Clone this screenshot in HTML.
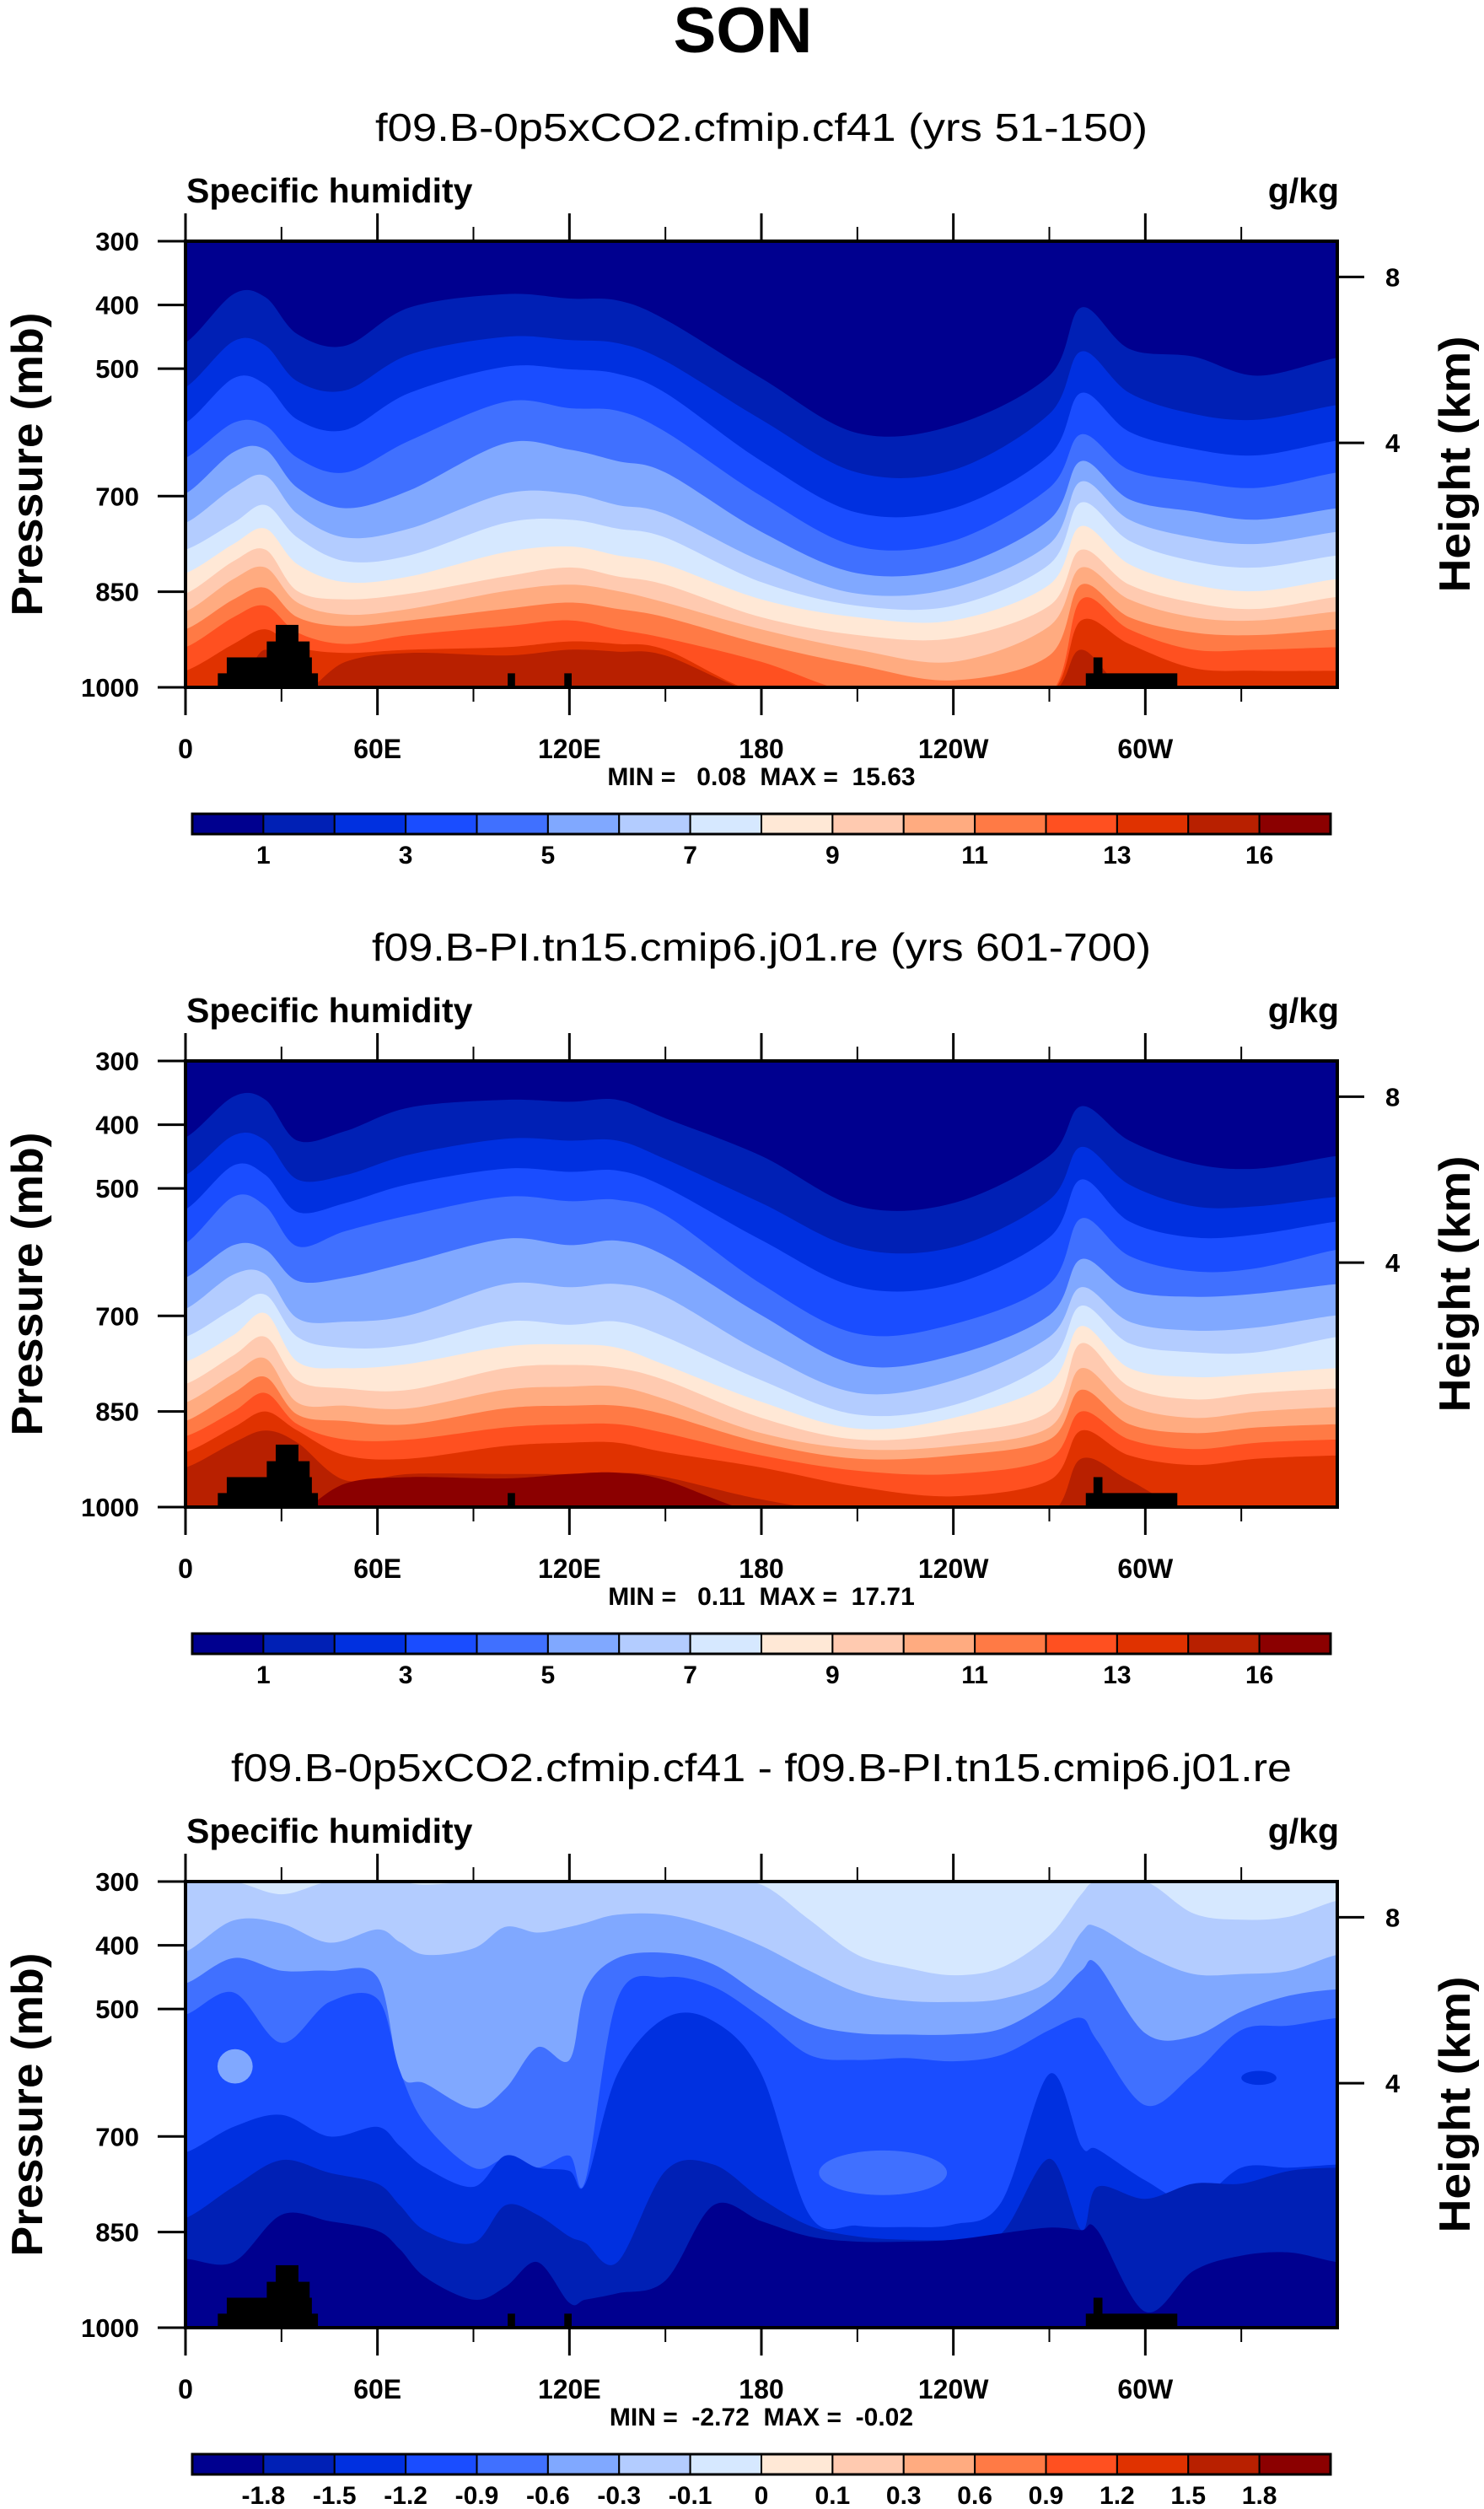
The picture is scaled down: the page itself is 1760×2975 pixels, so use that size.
<!DOCTYPE html>
<html><head><meta charset="utf-8">
<style>
html,body{margin:0;padding:0;background:#fff;}
svg{display:block;font-family:"Liberation Sans",Arial,sans-serif;}
.pre{white-space:pre;}
</style></head>
<body>
<svg id="fig" width="1760" height="2975" viewBox="0 0 1760 2975" xmlns="http://www.w3.org/2000/svg">
<rect x="0" y="0" width="1760" height="2975" fill="#fff"/>
<text x="881" y="62" font-size="76" font-weight="bold" text-anchor="middle">SON</text>
</svg>
<script>
// ---------- data ----------
const lonsAB = [0,15,25,35,50,70,100,120,135,150,180,210,240,270,280,295,315,335,360];
// Panel 1 (0p5xCO2) boundary pressures (mb) for contour levels 1..15
const a01 = [459,383,388,446,464,404,383,390,393,423,515,601,589,511,404,469,481,511,483];
const a02 = [529,457,464,520,534,478,450,455,460,488,580,663,659,571,473,538,571,580,557];
const a03 = [585,515,525,580,596,538,497,501,508,538,645,726,719,636,538,599,626,636,613];
const a04 = [640,585,589,640,663,613,552,562,566,599,700,779,770,687,603,659,677,687,663];
const a05 = [696,631,627,687,719,691,617,627,645,663,756,821,812,737,645,705,724,737,719];
const a06 = [742,687,668,728,765,751,696,696,714,728,802,853,844,775,677,737,765,775,756];
const a07 = [784,742,714,765,802,793,742,737,751,765,835,872,872,807,710,770,802,812,793];
const a08 = [821,775,751,807,835,826,788,779,793,807,862,890,895,839,747,807,839,849,830];
const a09 = [853,802,784,849,862,853,826,812,826,839,890,918,923,872,784,839,867,877,858];
const a10 = [881,830,812,867,886,877,849,839,849,867,909,941,960,904,812,862,890,895,881];
const a11 = [909,862,844,890,904,895,877,867,877,890,932,965,989,950,839,890,914,918,909];
const a12 = [937,890,872,914,932,918,904,895,909,923,960,1010,1010,1010,862,909,941,941,937];
const a13 = [974,932,909,937,946,941,937,928,932,941,1010,1010,1010,1010,895,932,970,974,974];
const a14 = [1010,1010,941,1010,960,946,950,941,944,950,1010,1010,1010,1010,941,1010,1010,1010,1010];
const a15 = [1010,1010,1010,1010,1010,1010,1010,1010,1010,1010,1010,1010,1010,1010,1010,1010,1010,1010,1010];
// Panel 2 (PI control)
const b01 = [420,356,361,425,410,373,361,364,361,390,449,528,523,449,371,425,461,469,449];
const b02 = [479,417,425,486,479,447,422,425,425,454,523,594,592,518,435,494,528,528,513];
const b03 = [533,464,479,537,523,493,469,474,472,498,581,655,650,577,486,552,577,572,552];
const b04 = [586,513,528,591,567,542,513,520,518,542,650,728,713,650,547,606,630,625,596];
const b05 = [640,589,596,645,640,616,579,589,582,606,699,777,762,699,611,660,670,665,650];
const b06 = [689,635,635,704,709,699,650,655,650,670,757,821,801,733,655,709,723,718,699];
const b07 = [733,689,667,733,750,745,709,714,709,733,801,855,840,772,684,743,757,757,733];
const b08 = [772,730,696,772,782,775,748,745,750,777,835,877,860,806,716,782,796,791,782];
const b09 = [807,762,733,801,814,816,782,777,782,801,860,894,884,850,743,811,831,821,814];
const b10 = [836,791,767,836,841,845,816,811,811,831,884,909,904,875,782,841,860,850,843];
const b11 = [865,821,796,855,865,870,845,841,841,855,899,924,919,894,816,870,884,875,870];
const b12 = [889,850,821,870,894,894,875,870,870,884,919,943,948,924,850,894,909,899,894];
const b13 = [914,875,850,880,919,924,904,899,899,914,938,968,983,958,880,919,934,924,919];
const b14 = [938,899,880,899,958,948,948,948,946,953,988,1010,1010,1010,924,958,1010,1010,1010];
const b15 = [1010,1010,1010,1010,963,953,955,948,946,958,1010,1010,1010,1010,1010,1010,1010,1010,1010];
// Panel 3 (difference)
const lonsC = [0,15,30,45,60,67,75,90,100,110,120,125,135,150,165,180,195,210,225,240,255,270,280,285,300,315,330,345,360];
const c7 = [300,300,320,300,300,300,305,300,300,300,300,300,300,300,300,305,360,415,435,447,435,385,320,300,300,350,360,355,330];
const c6 = [410,361,366,396,375,395,415,405,371,380,371,365,352,352,371,401,440,474,487,489,484,455,380,371,415,445,445,440,415];
const c5 = [460,420,440,440,450,600,617,656,625,560,580,470,420,412,430,479,523,538,540,540,531,489,440,430,538,543,504,479,469];
const c4 = [509,474,553,489,484,597,681,749,735,749,730,769,484,450,465,514,572,580,577,582,572,533,514,550,651,602,533,526,514];
const c3 = [725,685,666,700,685,715,749,779,730,749,754,774,602,514,519,602,823,840,842,838,803,602,715,720,769,803,749,749,744];
const c2 = [828,779,737,757,774,808,848,867,808,823,857,867,897,754,744,798,840,857,862,862,852,735,847,779,798,774,774,754,749];
const c1 = [892,897,823,833,848,877,921,956,936,897,961,956,946,926,808,833,857,865,865,862,852,843,847,847,975,911,887,882,897];
// pockets in panel 3: lon centre, p centre, lon radius, p radius, colour index
const pocketLon = [15.5, 218, 335.5];
const pocketP = [590, 757, 608];
const pocketLonR = [5.5, 20, 5.5];
const pocketPR = [27, 35, 11];
const pocketLevel = [5, 4, 2];
// land mask (black) : lon start, lon end, top pressure
const landLon0 = [10.1, 12.9, 25.4, 28.2, 100.7, 118.4, 281.4, 283.8];
const landLon1 = [41.4, 39.5, 38.8, 35.3, 103.0, 120.7, 310.0, 286.6];
const landTop  = [978, 953, 928, 902, 978, 978, 978, 953];
// axis ticks
const pTicks = [300,400,500,700,850,1000];
const lonMajor = [0,60,120,180,240,300];
const lonLabels = ['0','60E','120E','180','120W','60W'];
const heightTicks = [8,4];
const cbLabelsAB = ['1','','3','','5','','7','','9','','11','','13','','16'];
const cbLabelsC = ['-1.8','-1.5','-1.2','-0.9','-0.6','-0.3','-0.1','0','0.1','0.3','0.6','0.9','1.2','1.5','1.8'];
const colors = ['#00008f','#0020b5','#0030e0','#1a4dff','#4070ff','#80a8ff','#b3ccff','#d6e8ff','#ffe8d6','#ffcab0','#ffab80','#ff7a45','#ff5020','#e03200','#b82000','#8b0000'];

// ---------- drawing ----------
const NS='http://www.w3.org/2000/svg';
const svg=document.getElementById('fig');
function mk(tag,attrs,parent){const e=document.createElementNS(NS,tag);for(const k in attrs)e.setAttribute(k,attrs[k]);(parent||svg).appendChild(e);return e;}
const L=220,R=1586,W=R-L,H=529;
function xOf(lon){return L+lon/360*W;}
function smoothPath(pts){
  let d='M'+pts[0][0].toFixed(1)+','+pts[0][1].toFixed(1);
  for(let i=0;i<pts.length-1;i++){
    const p0=pts[Math.max(0,i-1)],p1=pts[i],p2=pts[i+1],p3=pts[Math.min(pts.length-1,i+2)];
    const c1x=p1[0]+(p2[0]-p0[0])/6,c1y=p1[1]+(p2[1]-p0[1])/6;
    const c2x=p2[0]-(p3[0]-p1[0])/6,c2y=p2[1]-(p3[1]-p1[1])/6;
    d+=' C'+c1x.toFixed(1)+','+c1y.toFixed(1)+' '+c2x.toFixed(1)+','+c2y.toFixed(1)+' '+p2[0].toFixed(1)+','+p2[1].toFixed(1);
  }
  return d;
}
function heightToP(km){return 1013.25*Math.pow(1-2.25577e-5*km*1000,5.25588);}

function panel(idx,T,subtitle,subLen,lons,bounds,levelOffset,bgLevel,pockets,landIdx,cbLabels,minmax){
  const yOf=p=>T+(p-300)/700*H;
  const g=mk('g',{});
  
  
  const st=mk('text',{x:903,y:T-119,'font-size':46,'text-anchor':'middle',textLength:subLen,lengthAdjust:'spacingAndGlyphs'},g);
  st.textContent=subtitle;
  
  
  const lt=mk('text',{x:L+1,y:T-46,'font-size':41,'font-weight':'bold'},g);
  lt.textContent='Specific humidity';
  
  
  const ut=mk('text',{x:R+2,y:T-46,'font-size':41,'font-weight':'bold','text-anchor':'end'},g);
  ut.textContent='g/kg';
  
  
  const cp=mk('clipPath',{id:'clip'+idx},g);
  mk('rect',{x:L,y:T,width:W,height:H},cp);
  const field=mk('g',{'clip-path':'url(#clip'+idx+')'},g);
  
  
  const bg=mk('rect',{x:L,y:T,width:W,height:H,fill:colors[bgLevel]},field);
  
  
  bounds.forEach((arr,k)=>{
    const pts=lons.map((lo,i)=>[xOf(lo),yOf(arr[i])]);
    pts.unshift([L-40,pts[0][1]]);pts.push([R+40,pts[pts.length-1][1]]);
    const d=smoothPath(pts)+' L'+(R+40)+','+(T+H+40)+' L'+(L-40)+','+(T+H+40)+' Z';
    const pa=mk('path',{d:d,fill:colors[levelOffset(k)]},field);
    
    
  });
  if(pockets){
    pocketLon.forEach((lo,i)=>{
      const cx=xOf(lo),cy=yOf(pocketP[i]);
      const e=mk('ellipse',{cx:cx,cy:cy,rx:pocketLonR[i]/360*W,ry:pocketPR[i]/700*H,fill:colors[pocketLevel[i]]},field);
      
      
    });
  }
  landIdx.forEach(i=>{
    const r=mk('rect',{x:xOf(landLon0[i]),y:yOf(landTop[i]),width:xOf(landLon1[i])-xOf(landLon0[i]),height:T+H-yOf(landTop[i]),fill:'#000'},field);
    
    
  });
  const fr=mk('rect',{x:L,y:T,width:W,height:H,fill:'none',stroke:'#000','stroke-width':4},g);
  
  
  for(let lo=0;lo<=330;lo+=30){
    const major=lo%60===0,len=major?33:17,x=xOf(lo);
    const t1=mk('line',{x1:x,x2:x,y1:T,y2:T-len,stroke:'#000','stroke-width':major?3:2},g);
    
    
    const t2=mk('line',{x1:x,x2:x,y1:T+H,y2:T+H+len,stroke:'#000','stroke-width':major?3:2},g);
    
    
  }
  lonMajor.forEach((lo,i)=>{
    const t=mk('text',{x:xOf(lo),y:T+H+84,'font-size':32,'font-weight':'bold','text-anchor':'middle'},g);
    t.textContent=lonLabels[i];
    
    
  });
  pTicks.forEach(p=>{
    const y=yOf(p);
    const l=mk('line',{x1:L-33,x2:L,y1:y,y2:y,stroke:'#000','stroke-width':3},g);
    
    
    const t=mk('text',{x:165,y:y+11,'font-size':31,'font-weight':'bold','text-anchor':'end'},g);
    t.textContent=String(p);
    
    
  });
  heightTicks.forEach(km=>{
    const y=yOf(heightToP(km));
    const l=mk('line',{x1:R,x2:R+32,y1:y,y2:y,stroke:'#000','stroke-width':3},g);
    
    
    const t=mk('text',{x:1643,y:y+11,'font-size':31,'font-weight':'bold'},g);
    t.textContent=String(km);
    
    
  });
  const yc=T+H/2;
  const pt=mk('text',{x:0,y:0,'font-size':52,'font-weight':'bold','text-anchor':'middle',transform:'translate(50,'+yc+') rotate(-90)',textLength:360,lengthAdjust:'spacingAndGlyphs'},g);
  pt.textContent='Pressure (mb)';
  
  
  const ht=mk('text',{x:0,y:0,'font-size':52,'font-weight':'bold','text-anchor':'middle',transform:'translate(1743,'+yc+') rotate(-90)',textLength:304,lengthAdjust:'spacingAndGlyphs'},g);
  ht.textContent='Height (km)';
  
  
  const mm=mk('text',{x:903,y:T+H+116,'font-size':30,'font-weight':'bold','text-anchor':'middle','class':'pre'},g);
  mm.textContent=minmax;
  
  
  const cbT=T+H+150,cbL=228,cbR=1578,cw=(cbR-cbL)/16;
  const cb=mk('g',{},g);
  
  
  colors.forEach((c,i)=>{
    const r=mk('rect',{x:cbL+i*cw,y:cbT,width:cw,height:24,fill:c,stroke:'#000','stroke-width':2},cb);
    
    
  });
  mk('rect',{x:cbL,y:cbT,width:cbR-cbL,height:24,fill:'none',stroke:'#000','stroke-width':3},cb);
  cbLabels.forEach((s,i)=>{
    if(!s)return;
    const t=mk('text',{x:cbL+(i+1)*cw,y:cbT+59,'font-size':30,'font-weight':'bold','text-anchor':'middle'},cb);
    t.textContent=s;
    
    
  });
}
panel(1,286,'f09.B-0p5xCO2.cfmip.cf41 (yrs 51-150)',916,lonsAB,
  [a01,a02,a03,a04,a05,a06,a07,a08,a09,a10,a11,a12,a13,a14,a15],k=>k+1,0,false,[0,1,2,3,4,5,6,7],cbLabelsAB,'MIN =   0.08  MAX =  15.63');
panel(2,1258,'f09.B-PI.tn15.cmip6.j01.re (yrs 601-700)',924,lonsAB,
  [b01,b02,b03,b04,b05,b06,b07,b08,b09,b10,b11,b12,b13,b14,b15],k=>k+1,0,false,[0,1,2,3,4,6,7],cbLabelsAB,'MIN =   0.11  MAX =  17.71');
panel(3,2231,'f09.B-0p5xCO2.cfmip.cf41 - f09.B-PI.tn15.cmip6.j01.re',1258,lonsC,
  [c7,c6,c5,c4,c3,c2,c1],k=>6-k,7,true,[0,1,2,3,4,5,6,7],cbLabelsC,'MIN =  -2.72  MAX =  -0.02');
</script>
</body></html>
